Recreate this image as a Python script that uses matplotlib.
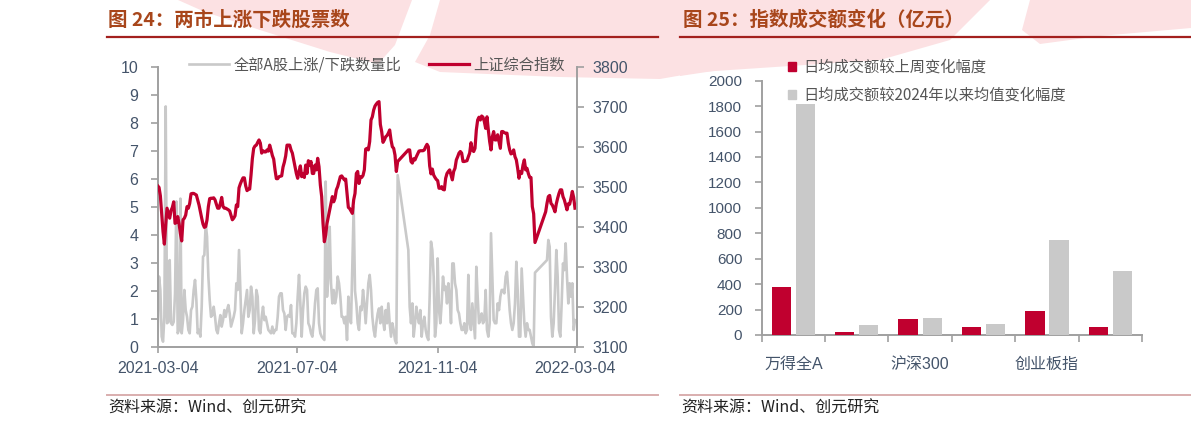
import numpy as np
import pandas as pd
import matplotlib
matplotlib.use('Agg')
import matplotlib.pyplot as plt
from matplotlib.lines import Line2D
from matplotlib.patches import Patch, Polygon
import matplotlib.dates as mdates

CJK = ['Noto Sans CJK SC', 'DejaVu Sans']
LAT = ['Liberation Sans', 'Noto Sans CJK SC', 'DejaVu Sans']

# ---------------- data: left chart ----------------
start_date = '2021-03-04'
end_date = '2022-03-04'
x_ticks = ['2021-03-04', '2021-07-04', '2021-11-04', '2022-03-04']

# 全部A股上涨/下跌数量比 (None = holiday gap, no trading)
up_down_ratio = [
    0.48, 2.51, 2.03, 0.36, 0.18, 1.07, 8.6, 0.84, 0.89, 3.10,
    0.84, 0.78, 0.89, 1.91, 5.2, 0.48, 0.60, 5.3, 0.48, 0.95,
    2.03, 1.31, 1.07, 0.60, 0.48, 1.31, 1.43, 2.03, 2.39, 1.67,
    0.48, 0.60, 0.36, 1.43, 3.22, 3.28, 4.41, 3.94, 2.51, 1.67,
    1.07, 1.13, 1.43, 1.07, 0.60, 0.48, 0.84, 1.13, 0.72, 0.95,
    1.31, 1.07, 1.31, 1.49, 1.19, 0.72, 0.89, 1.07, 1.31, 2.27,
    2.03, 3.46, 2.03, 0.48, 0.84, 1.31, 1.67, 2.03, 1.07, 1.31,
    2.15, 1.79, 0.48, 0.95, 2.03, 1.79, 0.60, 0.48, 1.07, 1.43,
    0.95, 1.07, 0.84, 0.60, 0.54, 0.48, 0.72, 0.48, 0.60, 0.60,
    1.07, 1.79, 1.91, 1.91, 1.31, 1.19, 0.60, 1.07, 1.13, 1.07,
    1.49, 0.48, 0.48,
    0.36, 0.84, 1.79, 2.57, 1.55, 0.36, 1.31, 1.91, 2.15, 2.03,
    0.84, 0.72, 0.48, 0.36, 0.84, 1.55, 2.03, 2.09, 0.84, 0.48,
    0.36, 0.30, 0.24, 5.91, 1.79, 2.51, 4.29, 2.27, 1.55, 2.03,
    1.55, 1.79, 2.51, 2.27, 1.79, 1.07, 1.07, 0.84, 1.07, 0.24,
    1.79, 1.07, 0.84, 2.98, 5.0, 2.0, 1.55, 0.84, 0.60, 1.43,
    1.31, 2.03, 1.55, 0.84, 1.55, 2.27, 2.57, 2.03, 1.07, 0.60,
    0.36, 0.84, 1.19, 1.37, 0.84, 1.43, 0.95, 0.60, 1.31, 0.84,
    1.55, 0.84, 0.36, 0.84, 0.60, 0.24, 0.12, 6.14, None, None,
    None, None, None, None, None, 3.46, 1.43, 0.84, 1.55, 0.36,
    0.84, 1.43, 1.07, 0.84, 1.31, 0.36, 0.84, 1.07, 0.60, 0.36,
    0.24, 1.79, 3.76, 3.46, 2.51,
    0.36, 0.84, 3.16, 1.31, 0.84, 1.55, 2.51, 2.03, 2.15, 1.55,
    2.27, 1.79, 0.84, 2.98, 2.98, 2.27, 2.03, 1.31, 1.19, 0.84,
    0.60, 0.60, 0.84, 0.48, 0.60, 2.57, 0.84, 0.60, 1.55, 0.95,
    0.30, 2.86, 1.79, 0.84, 0.95, 1.19, 0.84, 0.95, 2.03, 0.60,
    0.36, 0.84, 4.06, 2.51, 0.95, 0.84, 0.84, 1.55, 1.31, 1.79,
    2.03, 2.03, 1.91, 2.51, 2.68, 2.03, 1.31, 0.84, 0.60, 0.84,
    1.55, 3.04, 2.03, 0.36, 0.36, 2.80, 1.79, 0.84, 0.36, 0.84,
    0.60, 0.60, 0.36, 0.12, 0.0, 2.65, None, None, None, None,
    None, None, None, None, 3.10, 3.82, 3.58, 1.07, 0.36, 0.84,
    2.03, 3.46, 2.51, 0.60, 0.36, 1.55, 2.98, 2.74, 3.70, 2.51,
    1.55, 2.27, 1.79, 2.27, 0.60, 0.95,
]

# 上证综合指数
sse_index = [
    3503, 3499, 3478, 3434, 3388, 3357, 3405, 3447, 3434, 3422,
    3441, 3449, 3463, 3409, 3411, 3426, 3409, 3384, 3365, 3418,
    3422, 3430, 3451, 3447, 3459, 3483, 3484, 3484, 3482, 3480,
    3468, 3455, 3438, 3422, 3407, 3399, 3401, 3418, 3451, 3471,
    3472, 3472, 3473, 3468, 3457, 3447, 3447, 3459, 3474, 3451,
    3447, 3447, 3445, 3443, 3440, 3429, 3418, 3422, 3428, 3455,
    3451, 3498, 3508, 3516, 3523, 3523, 3503, 3491, 3494, 3495,
    3530, 3571, 3597, 3603, 3605, 3612, 3618, 3610, 3585, 3591,
    3588, 3588, 3593, 3590, 3605, 3593, 3579, 3570, 3543, 3521,
    3521, 3526, 3527, 3528, 3550, 3562, 3578, 3605, 3605, 3605,
    3593, 3585, 3568,
    3551, 3534, 3522, 3539, 3553, 3526, 3534, 3524, 3555, 3534,
    3566, 3555, 3564, 3534, 3534, 3555, 3543, 3572, 3551, 3505,
    3476, 3409, 3363, 3380, 3409, 3426, 3443, 3459, 3476, 3463,
    3472, 3493, 3501, 3514, 3526, 3528, 3523, 3518, 3520, 3484,
    3449, 3446, 3440, 3434, 3468, 3484, 3534, 3539, 3509, 3526,
    3524, 3529, 3543, 3595, 3597, 3593, 3614, 3668, 3676, 3693,
    3703, 3708, 3712, 3714, 3657, 3639, 3612, 3618, 3626, 3629,
    3635, 3643, 3618, 3601, 3597, 3580, 3539, 3564, None, None,
    None, None, None, None, None, 3593, 3593, 3564, 3560, 3571,
    3568, 3576, 3583, 3590, 3591, 3591, 3591, 3593, 3601, 3607,
    3601, 3553, 3533, 3545, 3530,
    3524, 3519, 3516, 3497, 3497, 3501, 3494, 3493, 3522, 3534,
    3539, 3543, 3530, 3518, 3539, 3547, 3568, 3576, 3585, 3589,
    3585, 3564, 3564, 3565, 3566, 3576, 3585, 3611, 3593, 3589,
    3597, 3643, 3668, 3675, 3668, 3678, 3675, 3664, 3647, 3676,
    3643, 3614, 3593, 3626, 3639, 3618, 3618, 3631, 3614, 3597,
    3639, 3639, 3636, 3635, 3635, 3610, 3593, 3583, 3585, 3593,
    3576, 3568, 3547, 3522, 3539, 3534, 3555, 3568, 3543, 3547,
    3534, 3524, 3524, 3451, 3433, 3361, None, None, None, None,
    None, None, None, 3438, 3459, 3476, 3479, 3459, 3455, 3447,
    3438, 3458, 3472, 3484, 3493, 3493, 3476, 3468, 3455, 3443,
    3458, 3457, 3472, 3489, 3474, 3447,
]

# ---------------- data: right chart ----------------
categories = ['万得全A', '上证指数', '沪深300', '中证500', '创业板指', '科创50']
shown_labels = ['万得全A', '', '沪深300', '', '创业板指', '']
wow_change = [378, 25, 125, 60, 185, 60]          # 日均成交额较上周变化幅度
since_2024_change = [1815, 75, 130, 85, 750, 505]  # 日均成交额较2024年以来均值变化幅度

# ---------------- style ----------------
RED = '#C0002F'
GRAY = '#C9C9C9'
SPINE = '#A0A0A0'
TICKC = '#44546A'
W, H = 1191, 426

fig = plt.figure(figsize=(W / 100, H / 100), dpi=100)
fig.patch.set_facecolor('white')


def fx(px):
    return px / W


def fy(py):
    return 1 - py / H


# watermark-like pink swooshes (decorative background)
PINK = '#FCE1E3'
wm_polys = [
    [(178, 0), (412, 0), (395, 45), (378, 64), (330, 52), (260, 30), (205, 12)],
    [(440, 0), (990, 0), (950, 40), (880, 60), (790, 66), (700, 72), (660, 79), (560, 77), (440, 72), (415, 62), (430, 35)],
    [(680, 0), (900, 0), (830, 40), (790, 60), (740, 67), (680, 76)],
    [(1030, 0), (1191, 0), (1191, 28), (1100, 36), (1040, 44), (1022, 30)],
]
for poly in wm_polys:
    fig.patches.append(Polygon([(fx(a), fy(b)) for a, b in poly], closed=True,
                               transform=fig.transFigure, facecolor=PINK,
                               edgecolor='none', zorder=-5))

# ---------------- left chart ----------------
ax = fig.add_axes([fx(157.7), fy(346.7), fx(576.7) - fx(157.7), fy(67.3) - fy(346.7)])
ax.set_facecolor('none')
ax2 = ax.twinx()

ratio_s = pd.Series(up_down_ratio, index=pd.date_range(start_date, end_date, periods=len(up_down_ratio)),
                    dtype=float).dropna()
sse_s = pd.Series(sse_index, index=pd.date_range(start_date, end_date, periods=len(sse_index)),
                  dtype=float).dropna()

l1, = ax.plot(ratio_s.index, ratio_s.values, color=GRAY, lw=1.9, solid_joinstyle='round')
l2, = ax2.plot(sse_s.index, sse_s.values, color=RED, lw=2.3, solid_joinstyle='round')

ax.set_ylim(0, 10)
ax.set_yticks(range(0, 11))
ax2.set_ylim(3100, 3800)
ax2.set_yticks(range(3100, 3801, 100))
ax.set_xlim(pd.Timestamp(start_date), pd.Timestamp('2022-03-05 12:00'))
ax.set_xticks(pd.to_datetime(x_ticks))
ax.xaxis.set_major_formatter(mdates.DateFormatter('%Y-%m-%d'))

for a in (ax, ax2):
    a.spines['top'].set_visible(False)
    for s in a.spines.values():
        s.set_color(SPINE)
        s.set_linewidth(1.4)
ax.spines['right'].set_visible(False)
ax2.spines['left'].set_visible(False)
ax2.spines['bottom'].set_visible(False)

ax.tick_params(axis='y', direction='out', length=5, width=1.2, color=SPINE, pad=9,
               labelsize=11.5, labelcolor=TICKC)
ax2.tick_params(axis='y', direction='out', length=5, width=1.2, color=SPINE, pad=6,
                labelsize=11.5, labelcolor=TICKC)
ax.tick_params(axis='x', direction='out', length=4, width=1.2, color=SPINE, pad=6,
               labelsize=11.5, labelcolor=TICKC)
for lab in ax.get_xticklabels() + ax.get_yticklabels() + ax2.get_yticklabels():
    lab.set_family(LAT)

fig.legend([l1, l2], ['全部A股上涨/下跌数量比', '上证综合指数'], loc='center',
           bbox_to_anchor=(fx(377), fy(65)), ncol=2, frameon=False,
           handlelength=2.6, handletextpad=0.3, columnspacing=1.8,
           prop={'family': CJK, 'size': 11}, labelcolor='#555555')

# ---------------- right chart ----------------
axb = fig.add_axes([fx(761.7), fy(335), fx(1142) - fx(761.7), fy(80.7) - fy(335)])
axb.set_facecolor('none')
xpos = np.arange(len(categories))
bw = 0.305
b1 = axb.bar(xpos - 0.19, wow_change, width=bw, color=RED, zorder=3)
b2 = axb.bar(xpos + 0.19, since_2024_change, width=bw, color=GRAY, zorder=3)
axb.set_xlim(-0.5, len(categories) - 0.5)
axb.set_ylim(0, 2000)
axb.set_yticks(range(0, 2001, 200))
axb.set_xticks(np.arange(-0.5, len(categories), 1.0))
axb.set_xticklabels([])
axb.set_xticks(xpos, minor=True)
axb.set_xticklabels(shown_labels, minor=True)
axb.tick_params(axis='x', which='major', direction='out', length=5, width=1.2, color=SPINE)
axb.tick_params(axis='x', which='minor', length=0, pad=16, labelsize=11.5, labelcolor=TICKC)
axb.tick_params(axis='y', direction='out', length=5, width=1.2, color=SPINE, pad=9,
                labelsize=11, labelcolor=TICKC)
for lab in axb.get_xticklabels(minor=True) + axb.get_yticklabels():
    lab.set_family(LAT)
for k in ('top', 'right'):
    axb.spines[k].set_visible(False)
for k in ('left', 'bottom'):
    axb.spines[k].set_color(SPINE)
    axb.spines[k].set_linewidth(1.4)

leg2 = fig.legend([Patch(color=RED), Patch(color=GRAY)],
                  ['日均成交额较上周变化幅度', '日均成交额较2024年以来均值变化幅度'],
                  loc='upper left', bbox_to_anchor=(fx(774), fy(45)), frameon=False,
                  handlelength=0.55, handleheight=0.55, handletextpad=0.5, labelspacing=0.72,
                  prop={'family': CJK, 'size': 11}, labelcolor='#555555')
leg2.set_zorder(5)

# ---------------- titles, rules, sources ----------------
TITLEC = '#A8461B'
fig.text(fx(108), fy(20), '图 24：两市上涨下跌股票数', fontsize=14, fontweight='bold',
         color=TITLEC, va='center', ha='left', family=CJK)
fig.text(fx(683), fy(20), '图 25：指数成交额变化（亿元）', fontsize=14, fontweight='bold',
         color=TITLEC, va='center', ha='left', family=CJK)
for x0, x1 in ((107, 658), (680, 1191)):
    fig.add_artist(Line2D([fx(x0), fx(x1)], [fy(37)] * 2, color='#A3201E', lw=1.6))
    fig.add_artist(Line2D([fx(x0), fx(x1)], [fy(395)] * 2, color='#D9AEAE', lw=1.4))
fig.text(fx(108), fy(408), '资料来源：Wind、创元研究', fontsize=11.5, color='#222222',
         va='center', ha='left', family=CJK)
fig.text(fx(681), fy(408), '资料来源：Wind、创元研究', fontsize=11.5, color='#222222',
         va='center', ha='left', family=CJK)

fig.savefig('out.png', dpi=100)
